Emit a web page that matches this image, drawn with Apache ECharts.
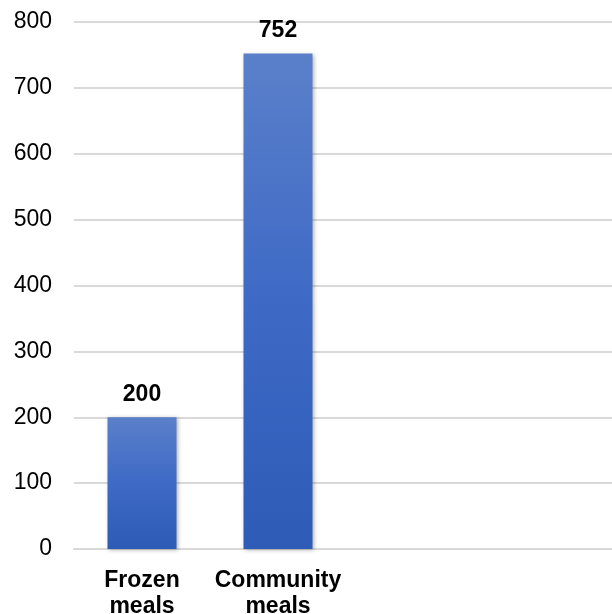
<!DOCTYPE html>
<html>
<head>
<meta charset="utf-8">
<script src="https://cdn.jsdelivr.net/npm/echarts@6/dist/echarts.min.js"></script>
<style>
  html, body { margin: 0; padding: 0; background: #fff; }
  #chart { width: 612px; height: 614px; }
</style>
</head>
<body>
<div id="chart"></div>
<script>
// Meals delivered, by type (two empty slots keep the bars to the left)
const categories = ['Frozen\nmeals', 'Community\nmeals', '', ''];
const mealCounts = [200, 752, null, null];
const yTicks = { min: 0, max: 800, interval: 100 };

const chart = echarts.init(document.getElementById('chart'), null, { renderer: 'canvas' });

const barFill = new echarts.graphic.LinearGradient(0, 0, 0, 1, [
  { offset: 0, color: '#5B80CA' },
  { offset: 0.5, color: '#3E6AC6' },
  { offset: 1, color: '#2D5BB6' }
]);

const FONT = 'Liberation Sans, Arial, sans-serif';

chart.setOption({
  animation: false,
  backgroundColor: '#ffffff',
  grid: {
    left: 74, right: -6, top: 22, bottom: 65,
    containLabel: false,
    outerBoundsMode: 'none'
  },
  xAxis: {
    type: 'category',
    data: categories,
    axisLine: { show: true, lineStyle: { color: '#d9d9d9', width: 2 } },
    axisTick: { show: false },
    axisLabel: {
      interval: 0,
      color: '#000',
      fontFamily: FONT,
      fontWeight: 'bold',
      fontSize: 23,
      lineHeight: 26,
      margin: 19
    }
  },
  yAxis: {
    type: 'value',
    min: yTicks.min,
    max: yTicks.max,
    interval: yTicks.interval,
    axisLine: { show: false },
    axisTick: { show: false },
    splitLine: { lineStyle: { color: '#d9d9d9', width: 2 } },
    axisLabel: {
      color: '#000',
      fontFamily: FONT,
      fontSize: 23,
      margin: 22
    }
  },
  series: [{
    type: 'bar',
    data: mealCounts,
    barWidth: 69,
    itemStyle: {
      color: barFill,
      shadowColor: 'rgba(0,0,0,0.3)',
      shadowBlur: 4,
      shadowOffsetX: 1,
      shadowOffsetY: 1
    },
    label: {
      show: true,
      position: 'top',
      distance: 11,
      color: '#000',
      fontFamily: FONT,
      fontWeight: 'bold',
      fontSize: 23
    }
  }]
});
</script>
</body>
</html>
